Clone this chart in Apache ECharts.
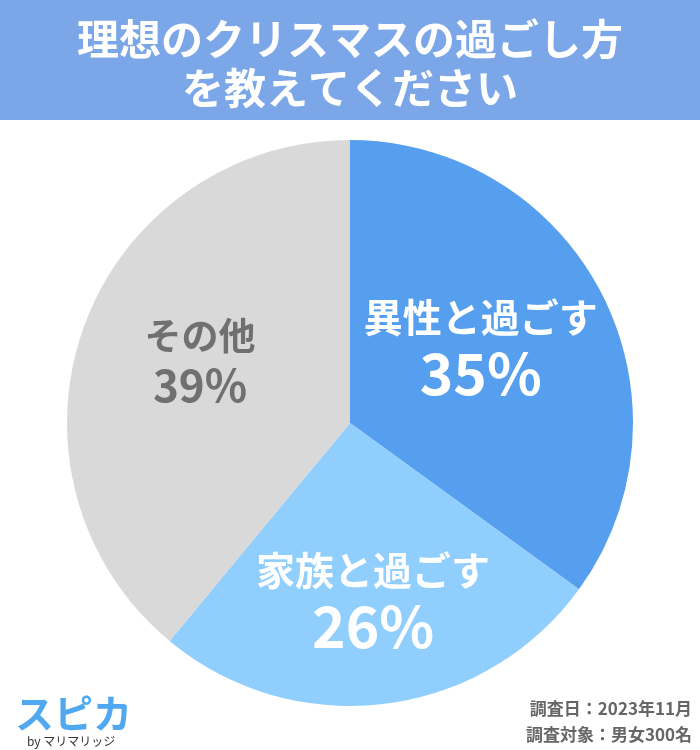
<!DOCTYPE html>
<html>
<head>
<meta charset="utf-8">
<script src="https://cdn.jsdelivr.net/npm/echarts@6/dist/echarts.min.js"></script>
<style>html,body{margin:0;padding:0;background:#fff}#c{width:700px;height:750px}</style>
</head>
<body>
<div id="c"></div>
<script>
const titleLines = ['理想のクリスマスの過ごし方', 'を教えてください'];
const categories = ['異性と過ごす', '家族と過ごす', 'その他'];
const values = [35, 26, 39];
const colors = ['#569fee', '#90cefd', '#d9d9d9'];
const noteLines = ['調査日：2023年11月', '調査対象：男女300名'];
const FONT = '"Noto Sans CJK JP", "Noto Sans", sans-serif';

const labelOffsets = [[2, -8], [5, 36], [-14, -13]];
const chart = echarts.init(document.getElementById('c'), null, {renderer: 'canvas'});
const data = categories.map((c, i) => {
  const isOther = i === 2;
  return {
    name: c, value: values[i],
    itemStyle: {color: colors[i]},
    label: {
      color: isOther ? '#707070' : '#ffffff',
      rich: {
        n: {fontSize: isOther ? 37 : 39, fontWeight: 'bold', fontFamily: FONT, lineHeight: 48, color: isOther ? '#707070' : '#ffffff'},
        p: {fontSize: isOther ? 44 : 57, fontWeight: 'bold', fontFamily: FONT, lineHeight: isOther ? 50 : 64, color: isOther ? '#707070' : '#ffffff'}
      }
    }
  };
});
chart.setOption({
  animation: false,
  backgroundColor: '#ffffff',
  graphic: [
    {type: 'rect', left: 0, top: 0, shape: {width: 700, height: 120}, style: {fill: '#7ba6e8'}},
    {type: 'text', x: 350, y: 39, style: {text: titleLines[0], fill: '#fff', font: 'bold 42px ' + FONT, textAlign: 'center', textVerticalAlign: 'middle'}},
    {type: 'text', x: 350, y: 88, style: {text: titleLines[1], fill: '#fff', font: 'bold 42px ' + FONT, textAlign: 'center', textVerticalAlign: 'middle'}},
    {type: 'text', x: 15, y: 713, style: {text: 'スピカ', fill: '#4fa8f0', font: 'bold 39px ' + FONT, textVerticalAlign: 'middle'}},
    {type: 'text', x: 27, y: 741, style: {text: 'by マリマリッジ', fill: '#333', font: '12px ' + FONT, textVerticalAlign: 'middle'}},
    {type: 'text', x: 692, y: 709, style: {text: noteLines[0], fill: '#666', font: 'bold 17px ' + FONT, textAlign: 'right', textVerticalAlign: 'middle'}},
    {type: 'text', x: 692, y: 735, style: {text: noteLines[1], fill: '#666', font: 'bold 17px ' + FONT, textAlign: 'right', textVerticalAlign: 'middle'}}
  ],
  series: [{
    type: 'pie',
    center: [350, 423],
    radius: [0, 283],
    startAngle: 90,
    clockwise: true,
    label: {
      show: true, position: 'inside',
      formatter: p => '{n|' + p.name + '}\n{p|' + p.value + '%}',
      align: 'center'
    },
    labelLine: {show: false},
    labelLayout: p => ({dx: labelOffsets[p.dataIndex][0], dy: labelOffsets[p.dataIndex][1]}),
    emphasis: {disabled: true},
    data: data
  }]
});
</script>
</body>
</html>
